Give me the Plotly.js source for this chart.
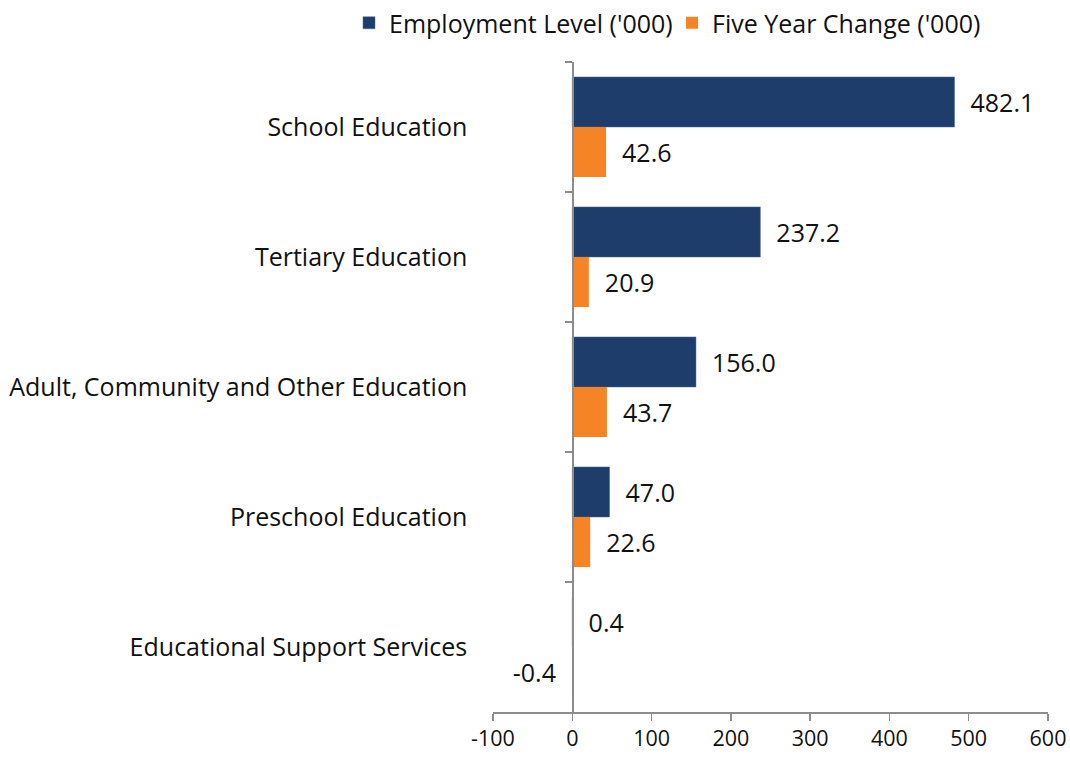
<!DOCTYPE html>
<html>
<head>
<meta charset="utf-8">
<script src="https://cdn.plot.ly/plotly-3.0.1.min.js"></script>
<style>html,body{margin:0;padding:0;background:#fff;}#chart{width:1070px;height:758px;}</style>
</head>
<body>
<div id="chart"></div>
<script>
const categories = ["School Education", "Tertiary Education", "Adult, Community and Other Education", "Preschool Education", "Educational Support Services"];
const employmentLevel = [482.1, 237.2, 156.0, 47.0, 0.4];
const fiveYearChange = [42.6, 20.9, 43.7, 22.6, -0.4];
const seriesNames = ["Employment Level ('000)", "Five Year Change ('000)"];
const xTickValues = [-100, 0, 100, 200, 300, 400, 500, 600];
const xTickLabels = ["-100", "0", "100", "200", "300", "400", "500", "600"];

const NB = "\u00a0";
function labelTemplates(vals) {
  return vals.map(v => v >= 0 ? NB + NB + "%{x:.1f}" : "%{x:.1f}" + NB + NB);
}

const FONT = "Open Sans, sans-serif";

const traces = [
  {
    type: "bar", orientation: "h", name: seriesNames[0], legend: "legend",
    y: categories, x: employmentLevel,
    marker: {color: "#1F3D6B", line: {color: "#4A6A9A", width: 0.5}},
    texttemplate: labelTemplates(employmentLevel), textposition: "outside",
    textfont: {family: FONT, size: 25, color: "#111"},
    cliponaxis: false, hoverinfo: "x+y"
  },
  {
    type: "bar", orientation: "h", name: seriesNames[1], legend: "legend2",
    y: categories, x: fiveYearChange,
    marker: {color: "#F58427"},
    texttemplate: labelTemplates(fiveYearChange), textposition: "outside",
    textfont: {family: FONT, size: 25, color: "#111"},
    cliponaxis: false, hoverinfo: "x+y"
  }
];

const legendBase = {
  orientation: "h", xref: "container", xanchor: "left",
  yref: "container", y: 1.0, yanchor: "top",
  font: {family: FONT, size: 25, color: "#111"},
  bgcolor: "rgba(0,0,0,0)", borderwidth: 0
};

const layout = {
  width: 1070, height: 758,
  margin: {l: 493, r: 22, t: 62, b: 46, pad: 0, autoexpand: false},
  paper_bgcolor: "#fff", plot_bgcolor: "#fff",
  font: {family: FONT, color: "#111", size: 20},
  barmode: "group", bargap: 0.23, bargroupgap: 0,
  showlegend: true,
  legend: Object.assign({}, legendBase, {x: 349 / 1070}),
  legend2: Object.assign({}, legendBase, {x: 672 / 1070}),
  xaxis: {
    range: [-100, 600], tickvals: xTickValues, ticktext: xTickLabels,
    showgrid: false, zeroline: false,
    showline: true, linecolor: "#8c8c8c", linewidth: 1.5,
    ticks: "outside", ticklen: 7, tickcolor: "#8c8c8c", tickwidth: 1.5,
    tickfont: {family: FONT, size: 21.5, color: "#111"},
    fixedrange: true
  },
  yaxis: {
    type: "category", autorange: "reversed",
    anchor: "free", position: 1/7,
    showline: true, linecolor: "#8c8c8c", linewidth: 1.5,
    ticks: "outside", tickson: "boundaries", ticklen: 7, tickcolor: "#8c8c8c", tickwidth: 1.5,
    ticklabelstandoff: 100,
    tickfont: {family: FONT, size: 25, color: "#111"},
    showgrid: false, zeroline: false, automargin: false,
    fixedrange: true
  }
};

Plotly.newPlot("chart", traces, layout, {displayModeBar: false, staticPlot: true});
</script>
</body>
</html>
